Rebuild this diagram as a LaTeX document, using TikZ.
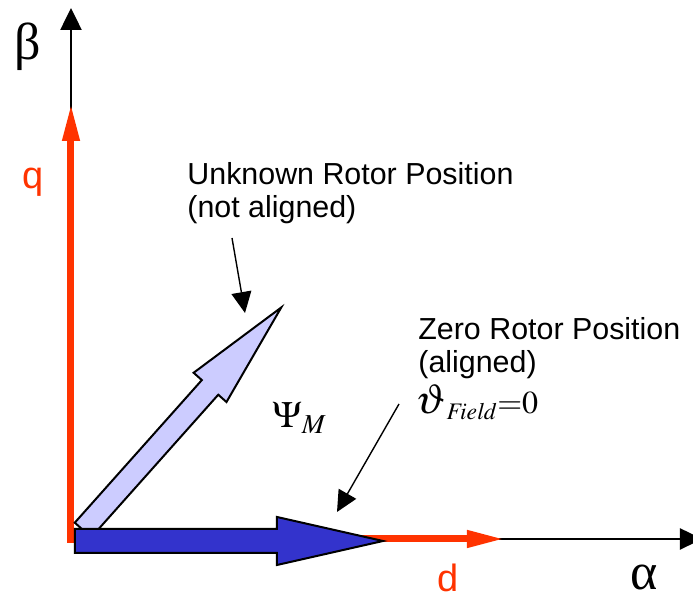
\documentclass[tikz,border=0pt]{standalone}
\usepackage{mathptmx}
\usepackage[no-math]{fontspec}
\setmainfont{Liberation Sans}
\newfontfamily\greekfont{Liberation Serif}
\usetikzlibrary{arrows.meta,positioning}
\definecolor{dqred}{RGB}{255,51,0}
\definecolor{fluxblue}{RGB}{51,51,204}
\definecolor{fluxlight}{RGB}{204,204,255}

\begin{document}
\begin{tikzpicture}[
    x=0.5pt, y=0.5pt,
    axis/.style={-{Triangle[length=11pt,width=10.5pt]}, line width=1.25pt},
    dq/.style={-{Triangle[length=19pt,width=8pt]}, line width=3.5pt, dqred},
    pointer/.style={-{Triangle[length=10.5pt,width=10pt]}, line width=0.7pt},
    blockarrow/.style={draw, line width=1pt, line join=miter},
    note/.style={anchor=base west, align=left, inner sep=0pt, font=\fontsize{15.2}{16.6}\selectfont},
    greek/.style={anchor=base west, inner sep=0pt, font=\fontsize{26}{26}\greekfont},
    dqlabel/.style={anchor=base west, inner sep=0pt, text=dqred, font=\fontsize{19}{19}\selectfont}
]
    \useasboundingbox (0,0) rectangle (693,599);

    % axis and arrow end points
    \coordinate (origin) at (71,60);
    \coordinate (betatip) at (71,591);
    \coordinate (alphatip) at (702,60);
    \coordinate (qfoot) at (71,56);
    \coordinate (qtip) at (71,496);
    \coordinate (dfoot) at (68,60);
    \coordinate (dtip) at (505,60);

    % alpha/beta frame
    \draw[axis] (origin) -- (betatip);
    \draw[axis] (origin) -- (alphatip);

    % d/q frame
    \draw[dq] (qfoot) -- (qtip);
    \draw[dq] (dfoot) -- (dtip);

    % flux vectors
    \draw[blockarrow, fill=fluxlight, shift={(83,69)}, rotate=48.3]
        (0,-11) -- (191,-11) -- (191,-22) -- (298,0) -- (191,22) -- (191,11) -- (0,11) -- cycle;
    \draw[blockarrow, fill=fluxblue]
        (75,46) -- (277,46) -- (277,34) -- (383,58) -- (277,82) -- (277,70) -- (75,70) -- cycle;

    % labels
    \node[greek] (beta) at (14,539) {β};
    \node[greek] (alpha) at (630,9) {α};
    \node[dqlabel] (qlabel) at (22,410) {q};
    \node[dqlabel] (dlabel) at (437,7) {d};
    \node[note] (unknown) at (187,381) {Unknown Rotor Position\\(not aligned)};
    \node[note] (zero) at (418,226) {Zero Rotor Position\\(aligned)};
    \node[anchor=base west, inner sep=0pt, font=\fontsize{16}{17}\selectfont] (theta) at (415,185)
        {$\mbox{\fontsize{21}{21}\selectfont$\vartheta$}_{\mathit{Field}}{=}0$};
    \node[anchor=base west, inner sep=0pt, font=\fontsize{18.5}{19}\selectfont] (psi) at (272,171) {$\Psi_{M}$};

    % pointers
    \coordinate (unkfrom) at (232,361);
    \coordinate (unkto) at (245,286);
    \coordinate (zerofrom) at (399,195);
    \coordinate (zeroto) at (337,87);
    \draw[pointer] (unkfrom) -- (unkto);
    \draw[pointer] (zerofrom) -- (zeroto);
\end{tikzpicture}
\end{document}
